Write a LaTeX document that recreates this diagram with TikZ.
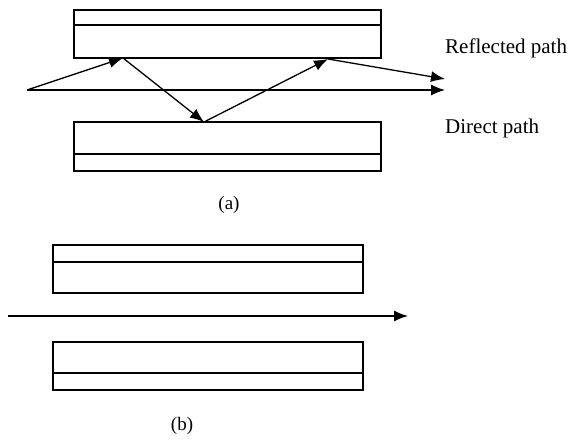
\documentclass[tikz,border=0pt]{standalone}
\usepackage{fontspec}
\setmainfont{Liberation Serif}
\usetikzlibrary{arrows.meta}
\begin{document}
\begin{tikzpicture}[x=1pt,y=-1pt,
  wall/.style={draw,line width=1.3pt,rectangle,inner sep=0pt,outer sep=0pt,minimum width=#1,minimum height=48pt},
  ray/.style={line width=1.3pt,-{Latex[length=14pt,width=11pt]}},
  lbl/.style={font=\fontsize{21}{23}\selectfont,anchor=west,inner sep=0pt},
  captxt/.style={font=\fontsize{19}{21}\selectfont,inner sep=0pt}]
\useasboundingbox (0,0) rectangle (571,440);
% (a)
\node[wall=307pt] (ta) at (227.5,34) {};
\node[wall=307pt,minimum height=49pt] (ba) at (227.5,146.5) {};
\draw[line width=1.3pt] ([yshift=-15pt]ta.north west) -- ([yshift=-15pt]ta.north east);
\draw[line width=1.3pt] ([yshift=17pt]ba.south west) -- ([yshift=17pt]ba.south east);
\coordinate (s) at (27,90);
\coordinate (e1) at (445,90);
\coordinate (r1) at (123,58);
\coordinate (r2) at (204,122);
\coordinate (r3) at (328,59);
\coordinate (e2) at (445,79);
\draw[ray] (s) -- (e1);
\draw[ray] (s) -- (r1);
\draw[ray] (r1) -- (r2);
\draw[ray] (r2) -- (r3);
\draw[ray] (r3) -- (e2);
\node[lbl] (rl) at (445,48) {Reflected path};
\node[lbl] (dl) at (445,128) {Direct path};
\node[captxt] (ca) at (229,205) {(a)};
% (b)
\node[wall=310pt] (tb) at (208,269) {};
\node[wall=310pt] (bb) at (208,366) {};
\draw[line width=1.3pt] ([yshift=-17pt]tb.north west) -- ([yshift=-17pt]tb.north east);
\draw[line width=1.3pt] ([yshift=17pt]bb.south west) -- ([yshift=17pt]bb.south east);
\coordinate (sb) at (8,316);
\coordinate (eb) at (408,316);
\draw[ray] (sb) -- (eb);
\node[captxt] (cb) at (182,426) {(b)};
\end{tikzpicture}
\end{document}
